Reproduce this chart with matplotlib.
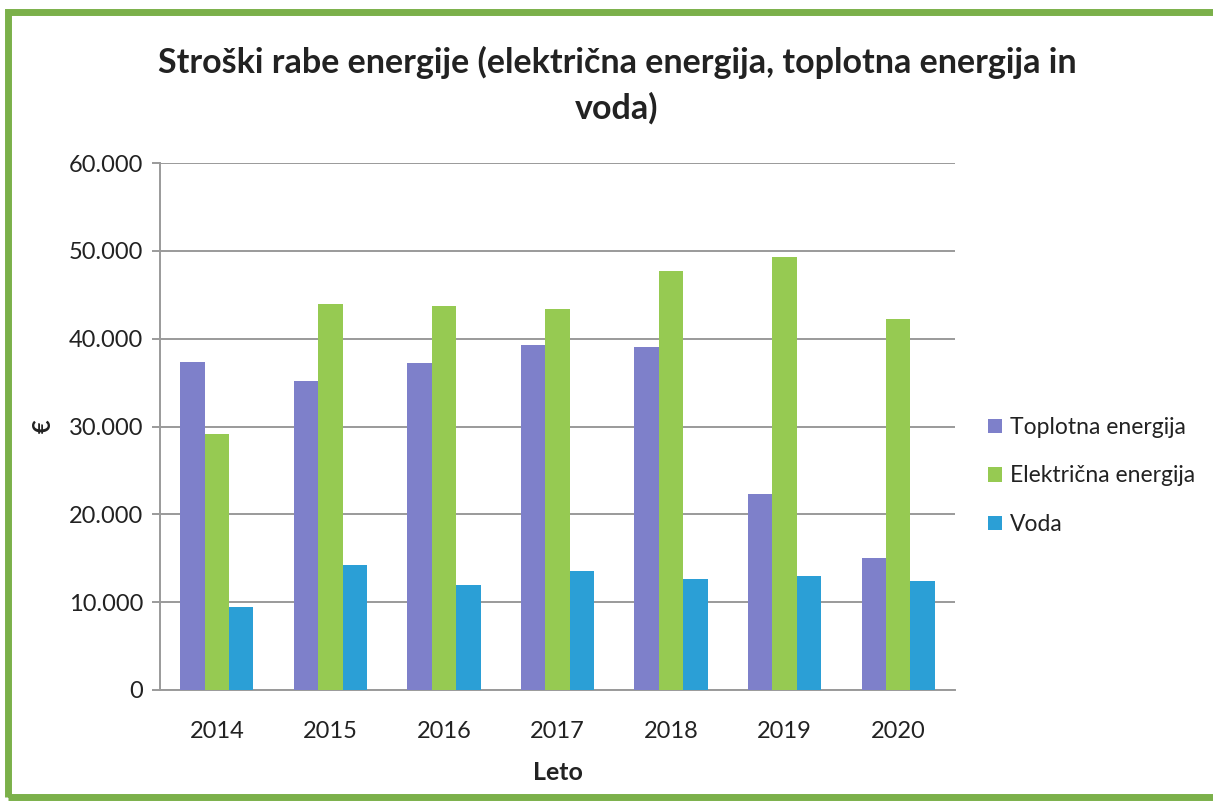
import matplotlib
matplotlib.use("Agg")
import matplotlib.pyplot as plt
import numpy as np
from matplotlib.patches import Rectangle

years = ["2014", "2015", "2016", "2017", "2018", "2019", "2020"]
toplotna = [37400, 35200, 37200, 39300, 39000, 22300, 15000]
elektricna = [29100, 44000, 43700, 43400, 47700, 49300, 42200]
voda = [9500, 14200, 12000, 13500, 12600, 13000, 12400]
series_names = ["Toplotna energija", "Električna energija", "Voda"]
colors = ["#7E80CA", "#96CA52", "#2B9FD6"]
yticks = [0, 10000, 20000, 30000, 40000, 50000, 60000]
ytick_labels = ["0", "10.000", "20.000", "30.000", "40.000", "50.000", "60.000"]

plt.rcParams['font.family'] = ['Lato', 'DejaVu Sans']

fig = plt.figure(figsize=(12.13, 8.09), dpi=100)
ax = fig.add_axes([160/1213, 1-690/809, 795/1213, (690-163)/809])

x = np.arange(len(years))
w = 0.215
for i, (vals, name, c) in enumerate(zip([toplotna, elektricna, voda], series_names, colors)):
    ax.bar(x + (i-1)*w, vals, width=w, color=c, label=name, zorder=3)

ax.set_xlim(-0.5, len(years)-0.5)
ax.set_ylim(0, 60000)
ax.set_yticks(yticks)
ax.set_yticklabels(ytick_labels, fontsize=17, color="#222222")
ax.set_xticks(x)
ax.set_xticklabels(years, fontsize=17, color="#222222")
ax.yaxis.grid(True, color="#9A9A9A", linewidth=1.4, zorder=0)
for s in ["top", "right"]:
    ax.spines[s].set_visible(False)
ax.spines["left"].set_color("#9A9A9A")
ax.spines["left"].set_linewidth(1.4)
ax.spines["bottom"].set_color("#9A9A9A")
ax.spines["bottom"].set_linewidth(1.4)
ax.tick_params(axis="y", length=6, color="#9A9A9A", width=1.4, pad=6)
ax.tick_params(axis="x", length=0, pad=22)

ax.set_xlabel("Leto", fontsize=18, fontweight="bold", labelpad=14, color="#222222")
ax.set_ylabel("€", fontsize=17, fontweight="bold", rotation=90, labelpad=10, color="#222222")

fig.text(617/1213, 1-62/809, "Stroški rabe energije (električna energija, toplotna energija in",
         ha="center", va="center", fontsize=24.5, fontweight="bold", color="#222222")
fig.text(617/1213, 1-108/809, "voda)",
         ha="center", va="center", fontsize=24.5, fontweight="bold", color="#222222")

leg = fig.legend(loc="center left", bbox_to_anchor=(972/1213, 1-476/809), frameon=False,
                 fontsize=16.5, handlelength=0.6, handleheight=0.6, handletextpad=0.35,
                 labelspacing=1.2, borderpad=0.2)
for t in leg.get_texts():
    t.set_color("#222222")

fig.patches.append(Rectangle((8/1213, 1-797/809), 1.0, (797-12)/809, transform=fig.transFigure,
                             fill=False, edgecolor="#7BB04A", linewidth=5))

fig.savefig("out.png", dpi=100)
